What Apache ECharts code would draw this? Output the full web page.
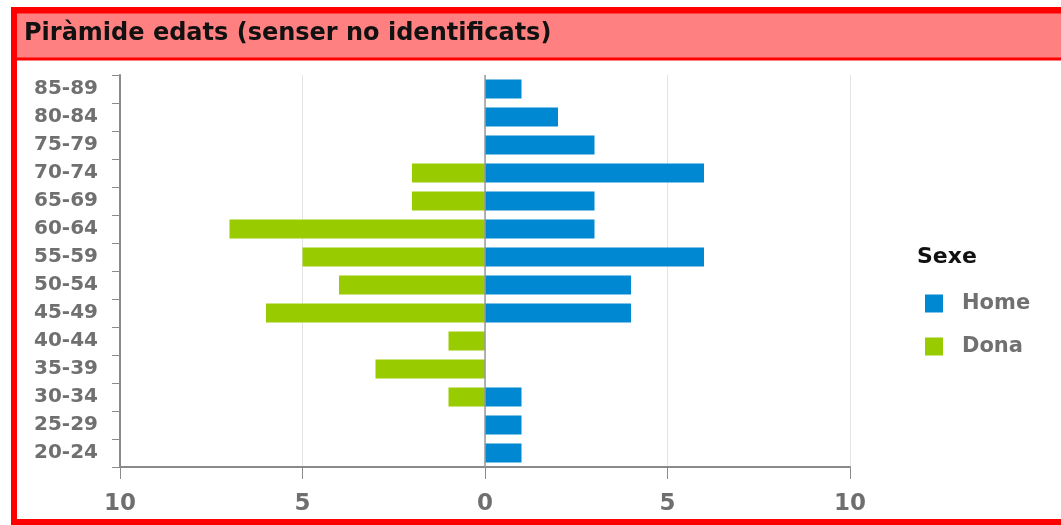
<!DOCTYPE html>
<html>
<head>
<meta charset="utf-8">
<script src="https://cdn.jsdelivr.net/npm/echarts@6/dist/echarts.min.js"></script>
<style>
  html, body { margin: 0; padding: 0; background: #fff; }
  #chart { width: 1061px; height: 525px; }
</style>
</head>
<body>
<div id="chart"></div>
<script>
// Age groups, top to bottom
const ageGroups = ['85-89', '80-84', '75-79', '70-74', '65-69', '60-64', '55-59',
                   '50-54', '45-49', '40-44', '35-39', '30-34', '25-29', '20-24'];
// Counts per age group
const homeCounts = [1, 2, 3, 6, 3, 3, 6, 4, 4, 0, 0, 1, 1, 1];
const donaCounts = [0, 0, 0, 2, 2, 7, 5, 4, 6, 1, 3, 1, 0, 0];
const axisTicks = [-10, -5, 0, 5, 10];
const titleText = 'Piràmide edats (senser no identificats)';
const legendTitle = 'Sexe';
const seriesNames = ['Home', 'Dona'];

const chart = echarts.init(document.getElementById('chart'));

const labelFont = 'DejaVu Sans';
const option = {
  animation: false,
  color: ['#0088D2', '#99CC00'],
  grid: { left: 120, right: 211, top: 75, bottom: 58, containLabel: false },
  xAxis: {
    type: 'value',
    min: axisTicks[0],
    max: axisTicks[axisTicks.length - 1],
    interval: 5,
    axisLine: { show: true, lineStyle: { color: '#8a8a8a', width: 2 } },
    axisTick: { show: true, length: 12, lineStyle: { color: '#8a8a8a', width: 1 } },
    axisLabel: {
      formatter: v => String(Math.abs(v)),
      color: '#6f6f6f', fontFamily: labelFont, fontWeight: 'bold',
      fontSize: 23, margin: 26
    },
    splitLine: { show: true, lineStyle: { color: '#e4e4e4', width: 1 } }
  },
  yAxis: {
    type: 'category',
    data: ageGroups,
    inverse: true,
    axisLine: { show: true, onZero: false, lineStyle: { color: '#8a8a8a', width: 2 } },
    axisTick: { show: true, length: 8, lineStyle: { color: '#8a8a8a' } },
    axisLabel: {
      color: '#707070', fontFamily: labelFont, fontWeight: 'bold',
      fontSize: 20, margin: 22
    }
  },
  legend: {
    orient: 'vertical',
    left: 920, top: 288,
    icon: 'rect',
    itemWidth: 18, itemHeight: 18, itemGap: 22,
    data: seriesNames,
    textStyle: { color: '#707070', fontFamily: labelFont, fontWeight: 'bold', fontSize: 21, padding: [0, 0, 0, 14] }
  },
  series: [
    {
      name: seriesNames[0], type: 'bar', stack: 'sexe', barWidth: '68%',
      data: homeCounts,
      markLine: {
        silent: true, symbol: 'none', label: { show: false },
        lineStyle: { color: '#9a9a9a', type: 'solid', width: 1.5 },
        data: [{ xAxis: 0 }]
      }
    },
    {
      name: seriesNames[1], type: 'bar', stack: 'sexe', barWidth: '68%',
      data: donaCounts.map(v => -v)
    }
  ],
  graphic: [
    // header band
    { type: 'rect', shape: { x: 14, y: 12, width: 1060, height: 47 },
      style: { fill: '#FF8080', stroke: '#FF0000', lineWidth: 3 }, z: 0 },
    // outer frame
    { type: 'rect', shape: { x: 14, y: 10, width: 1060, height: 512 },
      style: { fill: 'none', stroke: '#FF0000', lineWidth: 6 }, z: 1 },
    { type: 'text', left: 24, top: 22,
      style: { text: titleText, fill: '#111', font: 'bold 24px "DejaVu Sans"' }, z: 2 },
    { type: 'text', left: 917, top: 246,
      style: { text: legendTitle, fill: '#111', font: 'bold 22px "DejaVu Sans"' }, z: 2 }
  ]
};
chart.setOption(option);
</script>
</body>
</html>
